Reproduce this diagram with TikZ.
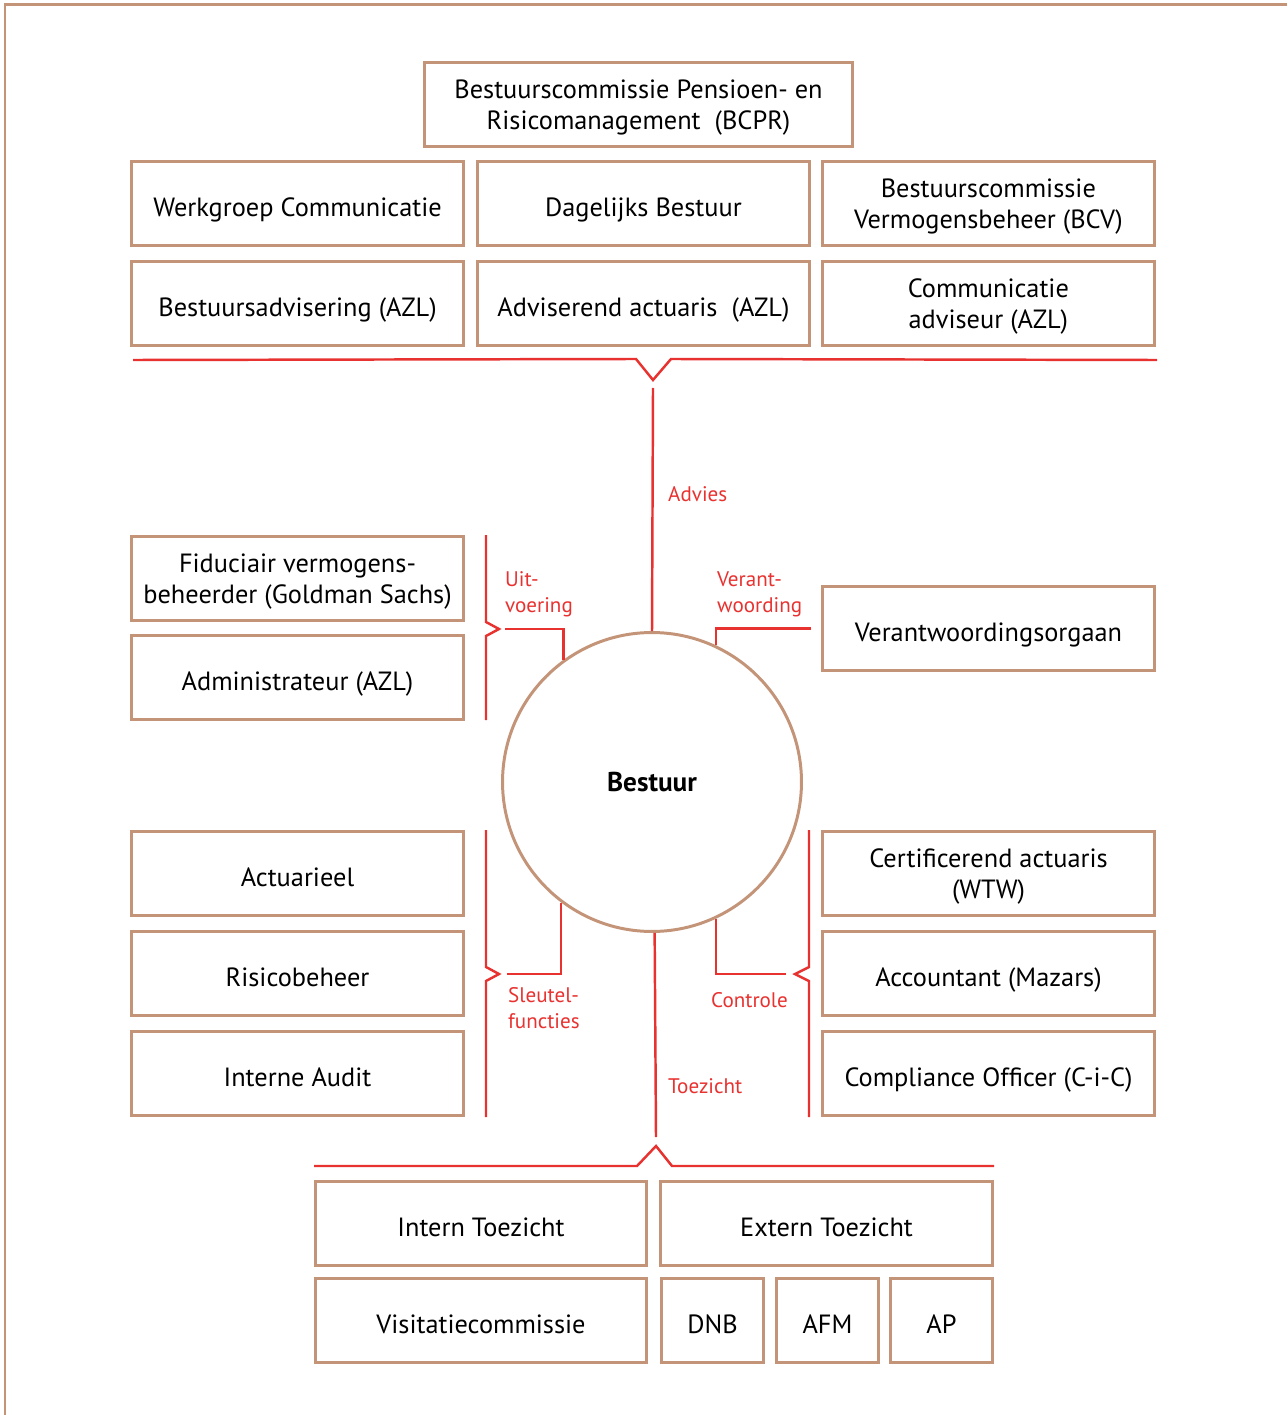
\documentclass[tikz,border=0pt]{standalone}
\usepackage{fontspec}
\setmainfont{PT Sans}
\usetikzlibrary{positioning}
\definecolor{boxbrown}{RGB}{196,148,120}
\definecolor{linkred}{RGB}{232,50,48}
\tikzset{every node/.style={font=\fontsize{15}{17.6}\selectfont},
         orgbox/.style={draw=boxbrown,line width=1.7pt,minimum width=6.64cm,
                        minimum height=1.68cm,align=center,inner sep=1pt,
                        text depth=0pt},
         oneline/.style={orgbox,text height=0.53cm},
         smallbox/.style={oneline,minimum width=2.04cm},
         link/.style={draw=linkred,line width=1.4pt},
         linklabel/.style={text=linkred,align=left,anchor=west,
                           font=\fontsize{12}{14.7}\selectfont},
         }

\begin{document}
\begin{tikzpicture}[x=0.02cm,y=-0.02cm]
\useasboundingbox (0,0) rectangle (1287,1415);
\draw[boxbrown,line width=1.7pt] (1287,5) -- (5,5) -- (5,1415);

% advies
\node[orgbox,minimum width=8.56cm] (bcpr) at (638.5,104.5)
    {Bestuurscommissie Pensioen- en\\Risicomanagement~~(BCPR)};
\node[oneline] (werkgroep) at (297.5,203.5) {Werkgroep Communicatie};
\node[oneline,right=0.22cm of werkgroep] (dagelijks) {Dagelijks Bestuur};
\node[orgbox,right=0.2cm of dagelijks] (bcv) {Bestuurscommissie\\Vermogensbeheer (BCV)};
\node[oneline,below=0.26cm of werkgroep] (bestadv) {Bestuursadvisering (AZL)};
\node[oneline,below=0.26cm of dagelijks] (actuaris) {Adviserend actuaris~~(AZL)};
\node[orgbox,below=0.26cm of bcv] (commadv) {Communicatie\\adviseur (AZL)};

% bestuur
\node[circle,draw=boxbrown,line width=1.7pt,minimum size=5.98cm,
      font=\fontsize{15.5}{17.6}\selectfont\bfseries] (bestuur) at (652,782) {Bestuur};

% uitvoering en verantwoording
\node[orgbox] (fiduciair) at (297.5,578.5) {Fiduciair vermogens-\\beheerder (Goldman Sachs)};
\node[oneline,below=0.24cm of fiduciair] (admin) {Administrateur (AZL)};
\node[oneline] (vo) at (988.5,628.5) {Verantwoordingsorgaan};

% sleutelfuncties en controle
\node[oneline] (actuarieel) at (297.5,873.5) {Actuarieel};
\node[oneline,below=0.26cm of actuarieel] (risico) {Risicobeheer};
\node[oneline,below=0.26cm of risico] (audit) {Interne Audit};
\node[orgbox] (certact) at (988.5,873.5) {Certificerend actuaris\\(WTW)};
\node[oneline,below=0.26cm of certact] (accountant) {Accountant (Mazars)};
\node[oneline,below=0.26cm of accountant] (compliance) {Compliance Officer (C-i-C)};

% toezicht
\node[oneline] (intern) at (481,1223.5) {Intern Toezicht};
\node[oneline] (extern) at (826.5,1223.5) {Extern Toezicht};
\node[oneline,below=0.2cm of intern] (visitatie) {Visitatiecommissie};
\node[smallbox] (dnb) at (712.5,1320.5) {DNB};
\node[smallbox,right=0.2cm of dnb] (afm) {AFM};
\node[smallbox,right=0.18cm of afm] (ap) {AP};

% brackets
\coordinate (advtip) at (653,380);
\coordinate (uittip) at (499,629);
\coordinate (sleuteltip) at (499,974);
\coordinate (controletip) at (795,974);
\coordinate (toetip) at (656,1146);
\draw[link] (133,360) -- (636,359) -- (advtip) -- (671,359) -- (1157,360);
\draw[link] (486,535) -- (486,622) -- (uittip) -- (486,636) -- (486,720);
\draw[link] (486,830) -- (486,967) -- (sleuteltip) -- (486,981) -- (486,1117);
\draw[link] (809,830) -- (809,967) -- (controletip) -- (809,981) -- (809,1117);
\draw[link] (314,1166) -- (637,1166) -- (toetip) -- (672,1166) -- (994,1166);

% connectors
\draw[link] ([yshift=-0.16cm]advtip) -- (bestuur.north);
\draw[link] ([xshift=0.12cm]uittip) -| (bestuur.126.4);
\draw[link] ([xshift=-0.2cm]vo.west) -| (bestuur.65);
\draw[link] ([xshift=0.16cm]sleuteltip) -| (bestuur.233.6);
\draw[link] ([xshift=-0.18cm]controletip) -| (bestuur.295);
\draw[link] (bestuur.271.5) -- ([yshift=0.18cm]toetip);

\node[linklabel] (advies) at (662,494) {Advies};
\node[linklabel] (uitvoering) at (499,594) {Uit-\\voering};
\node[linklabel] (verant) at (711,594) {Verant-\\woording};
\node[linklabel] (sleutel) at (502,1008) {Sleutel-\\functies};
\node[linklabel] (controle) at (705,1000) {Controle};
\node[linklabel] (toezicht) at (662,1086) {Toezicht};
\end{tikzpicture}
\end{document}
